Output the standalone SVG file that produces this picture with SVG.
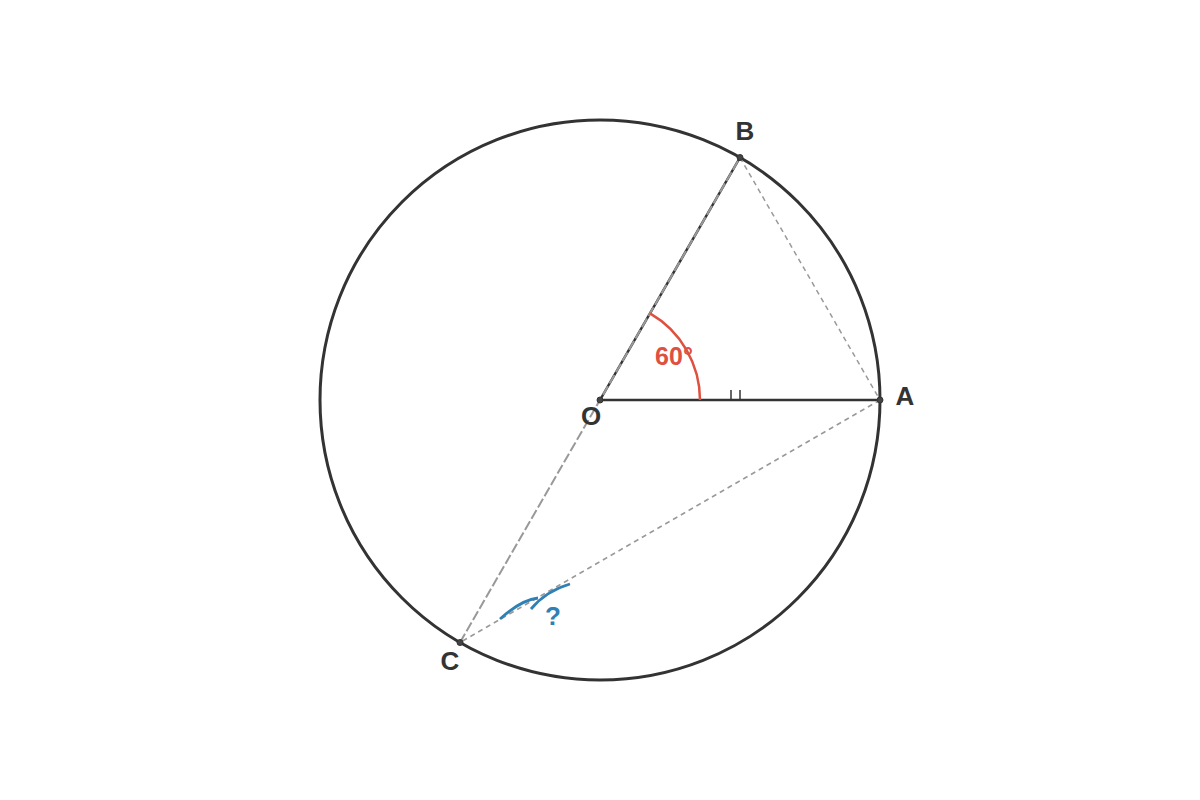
<svg xmlns="http://www.w3.org/2000/svg" width="1200" height="800" viewBox="0 0 1200 800">
<style>
.lbl{font-family:"Liberation Sans",Arial,sans-serif;font-weight:bold;font-size:26px;fill:#333;text-anchor:middle}
.pt{fill:#444;stroke:#333;stroke-width:1}
.dash{fill:none;stroke:#999;stroke-width:1.5;stroke-dasharray:5 4}
</style>
<rect width="1200" height="800" fill="#fff"/>
<g id="circle">
<circle cx="600" cy="400" r="280" fill="none" stroke="#333" stroke-width="3"/>
</g>
<g id="connectors">
<line x1="600" y1="400" x2="880" y2="400" stroke="#333" stroke-width="2.5"/>
<line x1="600" y1="400" x2="740" y2="157.5" stroke="#333" stroke-width="2.5"/>
<line x1="460" y1="642.5" x2="740" y2="157.5" fill="none" stroke="#999" stroke-width="2" stroke-dasharray="10 3"/>
<line class="dash" x1="740" y1="157.5" x2="880" y2="400"/>
<line class="dash" x1="880" y1="400" x2="460" y2="642.5"/>
<line x1="731" y1="390" x2="731" y2="400" stroke="#333" stroke-width="1.5"/>
<line x1="740" y1="390" x2="740" y2="400" stroke="#333" stroke-width="1.5"/>
</g>
<g id="angle60">
<path d="M700 400 A100 100 0 0 0 650 313.4" fill="none" stroke="#de5040" stroke-width="2.5"/>
<text x="674" y="365" style="font-family:'Liberation Sans',Arial,sans-serif;font-weight:bold;font-size:25px;fill:#de5040" text-anchor="middle">60°</text>
</g>
<g id="angleC">
<path d="M500 619 Q521 600 538 598" fill="none" stroke="#2e80b5" stroke-width="2.8"/>
<path d="M531 609 Q546 591 570 584" fill="none" stroke="#2e80b5" stroke-width="2.8"/>
<text x="553" y="625" style="font-family:'Liberation Sans',Arial,sans-serif;font-weight:bold;font-size:26px;fill:#2e80b5" text-anchor="middle">?</text>
</g>
<g id="O"><circle class="pt" cx="600" cy="400" r="3"/><text class="lbl" x="591" y="425">O</text></g>
<g id="A"><circle class="pt" cx="880" cy="400" r="3"/><text class="lbl" x="905" y="405">A</text></g>
<g id="B"><circle class="pt" cx="740" cy="157.5" r="3"/><text class="lbl" x="745" y="140">B</text></g>
<g id="C"><circle class="pt" cx="460" cy="642.5" r="3"/><text class="lbl" x="450" y="670">C</text></g>
</svg>
